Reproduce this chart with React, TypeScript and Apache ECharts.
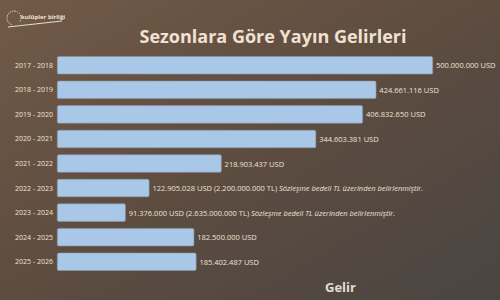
import React, { useEffect, useRef } from "react";
import * as echarts from "echarts";

const seasons = [
  "2017 - 2018",
  "2018 - 2019",
  "2019 - 2020",
  "2020 - 2021",
  "2021 - 2022",
  "2022 - 2023",
  "2023 - 2024",
  "2024 - 2025",
  "2025 - 2026",
];
const revenueUSD = [
  500000000, 424661116, 406832650, 344603381, 218903437, 122905028, 91376000,
  182500000, 185402487,
];
const tlAmounts = ["", "", "", "", "", "2.200.000.000", "2.635.000.000", "", ""];
const noteText = "Sözleşme bedeli TL üzerinden belirlenmiştir.";
const titleText = "Sezonlara Göre Yayın Gelirleri";
const axisTitle = "Gelir";
const logoText = "kulüpler birliği";

const fmt = (v: number) =>
  String(v).replace(/\B(?=(\d{3})+(?!\d))/g, ".");

export default function App() {
  const ref = useRef<HTMLDivElement>(null);
  useEffect(() => {
    document.body.style.margin = "0";
    const chart = echarts.init(ref.current!, null, { renderer: "svg" });
    const font = "Open Sans";
    chart.setOption({
      animation: false,
      backgroundColor: {
        type: "linear",
        x: 0,
        y: 0,
        x2: 1,
        y2: 1,
        colorStops: [
          { offset: 0, color: "#725a47" },
          { offset: 0.5, color: "#5d4c40" },
          { offset: 1, color: "#4a4542" },
        ],
      },
      title: {
        text: titleText,
        left: 268,
        top: 22,
        textAlign: "center",
        textStyle: {
          fontFamily: font,
          fontSize: 18,
          fontWeight: "bold",
          color: "#f0e2d2",
        },
      },
      graphic: [
        {
          type: "arc",
          shape: { cx: 14, cy: 18, r: 7, startAngle: Math.PI * 0.6, endAngle: Math.PI * 2.2 },
          style: { stroke: "#e8dccd", lineWidth: 1, fill: "none", lineDash: [1.5, 1] },
        },
        {
          type: "line",
          shape: { x1: 8, y1: 27, x2: 62, y2: 21 },
          style: { stroke: "#e8dccd", lineWidth: 1 },
        },
        {
          type: "text",
          left: 21,
          top: 14,
          style: {
            text: logoText,
            font: "bold 6px 'Open Sans'",
            fill: "#efe3d5",
          },
        },
        {
          type: "text",
          left: 325,
          top: 280,
          style: {
            text: axisTitle,
            font: "bold 13px 'Open Sans'",
            fill: "#e6dcd2",
          },
        },
      ],
      grid: { left: 57, right: 67, top: 53, bottom: 26, containLabel: false },
      xAxis: {
        type: "value",
        min: 0,
        max: 500000000,
        show: false,
      },
      yAxis: {
        type: "category",
        inverse: true,
        data: seasons,
        axisLine: { show: false },
        axisTick: { show: false },
        axisLabel: {
          fontFamily: font,
          fontSize: 7,
          color: "#eee4d8",
          margin: 4,
        },
      },
      series: [
        {
          type: "bar",
          data: revenueUSD,
          barCategoryGap: "26%",
          itemStyle: {
            color: "#a9c7e6",
            borderColor: "#8a97a3",
            borderWidth: 0.6,
            borderRadius: 1.5,
          },
          label: {
            show: true,
            position: "right",
            distance: 3,
            fontFamily: font,
            fontSize: 7.5,
            color: "#eee3d6",
            formatter: (p: any) => {
              const i = p.dataIndex;
              const base = fmt(revenueUSD[i]) + " USD";
              if (tlAmounts[i]) {
                return base + " (" + tlAmounts[i] + " TL) {it|" + noteText + "}";
              }
              return base;
            },
            rich: {
              it: {
                fontFamily: font,
                fontSize: 7.5,
                fontStyle: "italic",
                color: "#eee3d6",
              },
            },
          },
        },
      ],
    });
    return () => chart.dispose();
  }, []);
  return <div ref={ref} style={{ width: 500, height: 300 }} />;
}
